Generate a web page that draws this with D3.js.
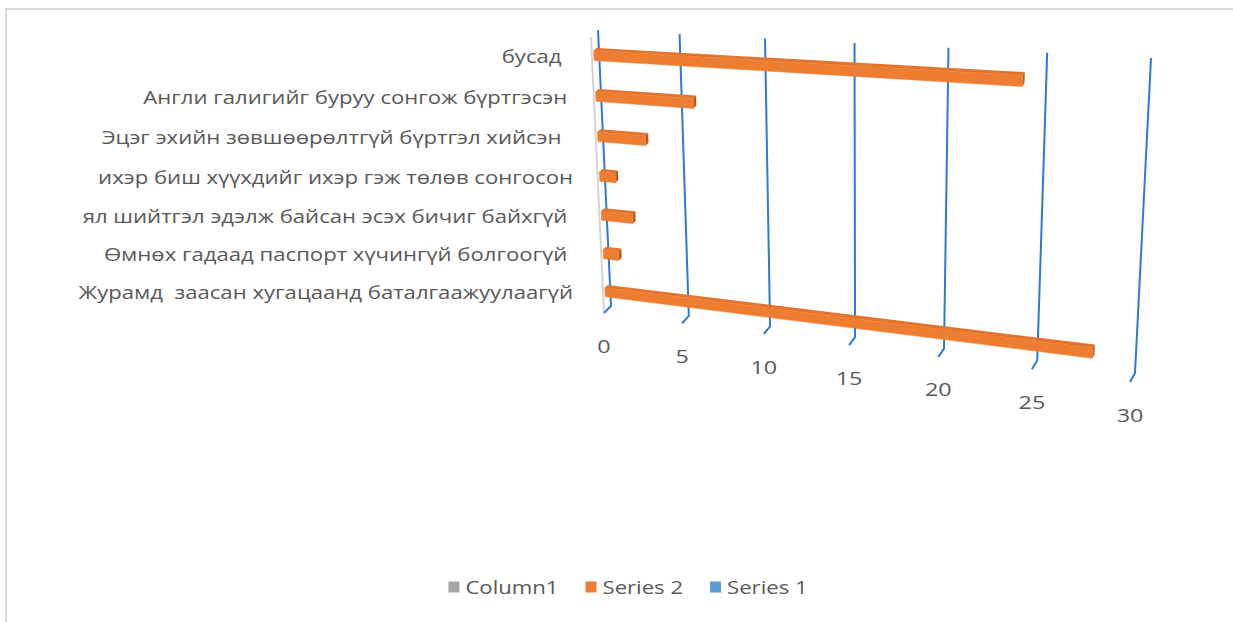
<!DOCTYPE html>
<html>
<head>
<meta charset="utf-8">
<style>
  body { margin: 0; background: #fff; }
  text { font-family: "Open Sans", sans-serif; fill: #595959; }
</style>
</head>
<body>
<svg id="chart" width="1233" height="622"></svg>
<script src="https://cdnjs.cloudflare.com/ajax/libs/d3/7.8.5/d3.min.js"></script>
<script>

// categories, bottom to top (Excel order)
var categories = [
  "Журамд  заасан хугацаанд баталгаажуулаагүй",
  "Өмнөх гадаад паспорт хүчингүй болгоогүй ",
  "ял шийтгэл эдэлж байсан эсэх бичиг байхгүй ",
  "ихэр биш хүүхдийг ихэр гэж төлөв сонгосон",
  "Эцэг эхийн зөвшөөрөлтгүй бүртгэл хийсэн  ",
  "Англи галигийг буруу сонгож бүртгэсэн ",
  "бусад  "
];
var series2 = [28, 1, 2, 1, 3, 6, 24];
var valueTicks = [0, 5, 10, 15, 20, 25, 30];
var legendNames = ["Column1", "Series 2", "Series 1"];
var legendColors = ["#a5a5a5", "#ed7d31", "#5b9bd5"];

var svg = d3.select("#chart");
var stretch = 1.23; // picture is wider than the font

// chart border (only top and left show)
svg.append("path")
    .attr("d", "M6,622V9H1233")
    .attr("fill", "none")
    .attr("stroke", "#d9d9d9")
    .attr("stroke-width", 2);

// perspective: back wall as a quad, unit square -> screen
function homography(q) {
  var x0 = q[0][0], y0 = q[0][1], x1 = q[1][0], y1 = q[1][1],
      x2 = q[2][0], y2 = q[2][1], x3 = q[3][0], y3 = q[3][1];
  var dx1 = x1 - x2, dx2 = x3 - x2, dx3 = x0 - x1 + x2 - x3,
      dy1 = y1 - y2, dy2 = y3 - y2, dy3 = y0 - y1 + y2 - y3;
  var det = dx1 * dy2 - dx2 * dy1;
  var g = (dx3 * dy2 - dx2 * dy3) / det,
      h = (dx1 * dy3 - dx3 * dy1) / det;
  var a = x1 - x0 + g * x1, b = x3 - x0 + h * x3, c = x0,
      d = y1 - y0 + g * y1, e = y3 - y0 + h * y3, f = y0;
  return function(u, v) {
    var w = g * u + h * v + 1;
    return [(a * u + b * v + c) / w, (d * u + e * v + f) / w];
  };
}

var wall = homography([[598, 30], [1151, 58], [1135, 373], [611, 306]]);
var depthX = d3.scaleLinear().domain([0, 1]).range([-7, -5]);
var depthY = d3.scaleLinear().domain([0, 1]).range([7, 9]);

function P(u, v, z) {
  var p = wall(u, v);
  return [p[0] + z * depthX(u), p[1] + z * depthY(u)];
}

var x = d3.scaleLinear().domain([0, 30]).range([0, 1]);
var y = d3.scaleBand().domain(categories).range([1, 0]).paddingInner(0).paddingOuter(0);

var line = d3.line();

// side wall edge
svg.append("path")
    .attr("d", line([P(0, 0, 1), P(0, 1, 1)]))
    .attr("fill", "none")
    .attr("stroke", "#d4d4d4")
    .attr("stroke-width", 2);

// gridlines on back wall + floor
svg.append("g").selectAll("path")
  .data(valueTicks)
  .enter().append("path")
    .attr("d", function(t) {
      var u = x(t);
      return line([P(u, 0, 0), P(u, 1, 0), P(u, 1, 1)]);
    })
    .attr("fill", "none")
    .attr("stroke", "#2b7bd4")
    .attr("stroke-width", 2)
    .attr("stroke-linejoin", "round");

// tick labels
svg.append("g").selectAll("g")
  .data(valueTicks)
  .enter().append("g")
    .attr("transform", function(t) {
      var p = P(x(t), 1, 1);
      return "translate(" + p[0] + "," + (p[1] + 32) + ") scale(" + stretch + ",1)";
    })
  .append("text")
    .attr("text-anchor", "middle")
    .attr("dominant-baseline", "central")
    .style("font-size", "19px")
    .text(function(t) { return t; });

// bars
var bh = 0.017, zf = 0.72, zb = 0.32;
var bars = svg.append("g").selectAll("g")
  .data(series2.map(function(v, i) { return { cat: categories[i], value: v }; }))
  .enter().append("g");

function poly(pts) { return line(pts) + "Z"; }

bars.append("path")
    .attr("fill", "#e2742c")
    .attr("d", function(d) {
      var vc = y(d.cat) + y.bandwidth() / 2, u = x(d.value);
      return poly([P(0, vc - bh, zb), P(u, vc - bh, zb), P(u, vc - bh, zf), P(0, vc - bh, zf)]);
    });
bars.append("path")
    .attr("fill", "#b55a1e")
    .attr("d", function(d) {
      var vc = y(d.cat) + y.bandwidth() / 2, u = x(d.value);
      return poly([P(u, vc - bh, zf), P(u, vc - bh, zb), P(u, vc + bh, zb), P(u, vc + bh, zf)]);
    });
bars.append("path")
    .attr("fill", "#ed7d31")
    .attr("stroke", "#ed7d31")
    .attr("stroke-width", 0.6)
    .attr("d", function(d) {
      var vc = y(d.cat) + y.bandwidth() / 2, u = x(d.value);
      return poly([P(0, vc - bh, zf), P(u, vc - bh, zf), P(u, vc + bh, zf), P(0, vc + bh, zf)]);
    });

// category labels
var labelRight = P(0, 0, 1)[0] - 18;
svg.append("g").selectAll("g")
  .data(categories)
  .enter().append("g")
    .attr("transform", function(c) {
      var p = P(0, y(c) + y.bandwidth() / 2, 1);
      return "translate(" + labelRight + "," + (p[1] - 2) + ") scale(" + stretch + ",1)";
    })
  .append("text")
    .attr("text-anchor", "end")
    .attr("dominant-baseline", "central")
    .attr("xml:space", "preserve")
    .style("white-space", "pre")
    .style("font-size", "18px")
    .text(function(c) { return c; });

// legend
var legend = svg.append("g");
var items = legend.selectAll("g")
  .data(legendNames)
  .enter().append("g");
items.append("rect")
    .attr("width", 11).attr("height", 11)
    .attr("y", -5.5)
    .attr("fill", function(d, i) { return legendColors[i]; });
items.append("g")
    .attr("transform", "translate(17,0) scale(" + stretch + ",1)")
  .append("text")
    .attr("dominant-baseline", "central")
    .style("font-size", "18px")
    .text(function(d) { return d; });

var xs = 0, offsets = [];
items.each(function() {
  offsets.push(xs);
  xs += 17 + d3.select(this).select("text").node().getComputedTextLength() * stretch + 27;
});
var total = xs - 27;
legend.attr("transform", "translate(" + (628 - total / 2) + ",587)");
items.attr("transform", function(d, i) { return "translate(" + offsets[i] + ",0)"; });

</script>
</body>
</html>
